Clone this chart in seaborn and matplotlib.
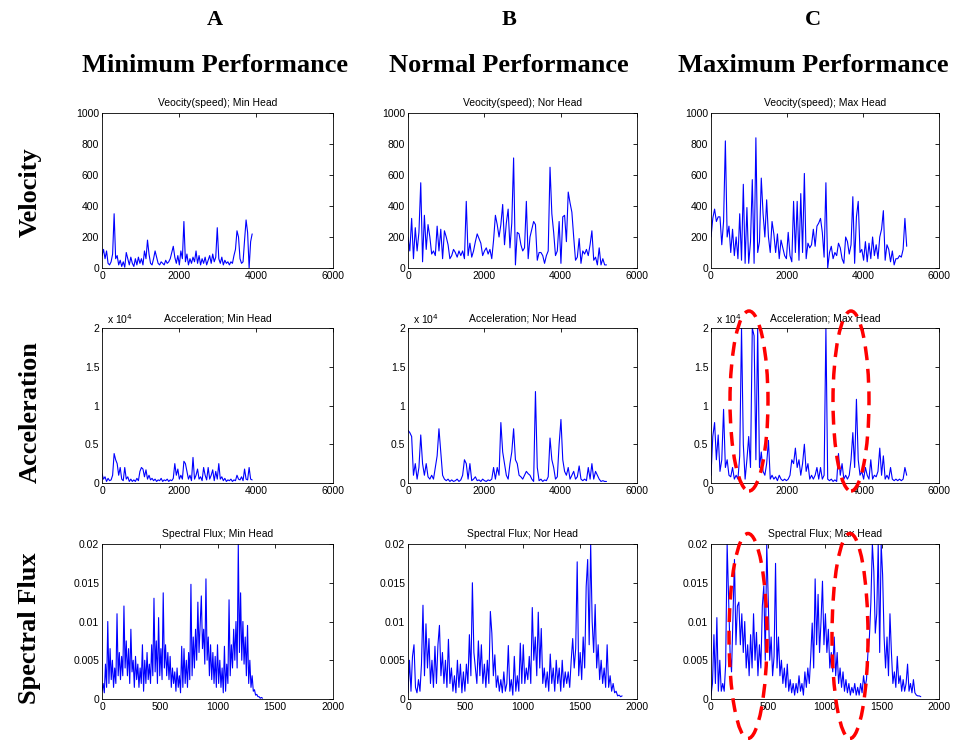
import numpy as np
import matplotlib
matplotlib.use("Agg")
import matplotlib.pyplot as plt
import seaborn as sns
from matplotlib.patches import Ellipse
from matplotlib.ticker import FuncFormatter

# data (velocity, acceleration in 1e4, spectral flux in 1e-3)
vel_min = [80, 120, 60, 110, 30, 20, 40, 90, 350, 60, 80, 20, 50, 10, 40, 5, 100, 60, 20, 70,
           30, 10, 60, 20, 70, 30, 60, 20, 110, 60, 180, 90, 30, 20, 60, 110, 70, 30, 20, 40,
           30, 20, 50, 30, 40, 60, 100, 140, 70, 30, 80, 20, 110, 60, 300, 40, 90, 20, 60, 30,
           70, 40, 110, 30, 80, 20, 60, 30, 70, 20, 50, 80, 30, 90, 40, 70, 260, 60, 30, 70,
           20, 50, 30, 40, 20, 40, 30, 80, 120, 240, 200, 60, 30, 40, 180, 310, 230, 0, 170, 220]
vel_nor = [200, 110, 320, 60, 260, 110, 230, 550, 40, 340, 120, 280, 200, 90, 110, 80, 270, 110, 250, 60,
           240, 200, 150, 60, 80, 120, 100, 70, 110, 80, 110, 60, 430, 80, 160, 70, 110, 170, 220, 190,
           160, 80, 110, 130, 90, 120, 60, 180, 340, 280, 200, 280, 410, 150, 290, 380, 130, 290, 710, 20,
           230, 220, 150, 110, 130, 430, 60, 200, 250, 300, 280, 50, 100, 100, 80, 30, 80, 110, 650, 350,
           230, 80, 110, 300, 30, 330, 340, 170, 490, 420, 360, 200, 50, 70, 190, 30, 110, 90, 120, 80,
           150, 240, 50, 70, 20, 130, 20, 60, 20, 20]
vel_max = [200, 320, 380, 300, 330, 330, 150, 300, 820, 200, 270, 100, 250, 80, 200, 60, 350, 50, 540, 30,
           390, 30, 170, 570, 30, 840, 100, 170, 580, 350, 200, 440, 200, 100, 300, 220, 100, 220, 60, 180,
           130, 80, 60, 230, 80, 40, 430, 100, 430, 50, 480, 100, 610, 60, 160, 130, 150, 250, 140, 270,
           290, 320, 230, 70, 550, 0, 100, 140, 60, 100, 80, 160, 130, 60, 30, 200, 170, 90, 150, 460,
           30, 330, 430, 100, 120, 50, 170, 40, 160, 60, 200, 80, 150, 60, 200, 250, 370, 50, 150, 120,
           40, 110, 20, 60, 60, 80, 70, 120, 320, 140]

acc_min = [0.12, 0.05, 0.08, 0.02, 0.06, 0.03, 0.04, 0.10, 0.38, 0.30, 0.25, 0.10, 0.20, 0.05, 0.03, 0.20, 0.05, 0.08, 0.02, 0.05,
           0.02, 0.04, 0.02, 0.06, 0.03, 0.15, 0.20, 0.18, 0.08, 0.17, 0.05, 0.10, 0.04, 0.06, 0.03, 0.05, 0.02, 0.04, 0.03, 0.06,
           0.02, 0.04, 0.03, 0.05, 0.02, 0.04, 0.03, 0.06, 0.25, 0.10, 0.18, 0.05, 0.10, 0.05, 0.28, 0.25, 0.15, 0.05, 0.10, 0.03,
           0.33, 0.05, 0.10, 0.18, 0.05, 0.08, 0.03, 0.20, 0.10, 0.04, 0.20, 0.05, 0.10, 0.17, 0.03, 0.15, 0.05, 0.25, 0.05, 0.08,
           0.03, 0.06, 0.02, 0.04, 0.03, 0.05, 0.02, 0.04, 0.03, 0.10, 0.05, 0.04, 0.08, 0.03, 0.18, 0.05, 0.04, 0.20, 0.05, 0.04]
acc_nor = [0.68, 0.65, 0.60, 0.10, 0.25, 0.05, 0.20, 0.62, 0.25, 0.10, 0.25, 0.08, 0.05, 0.10, 0.05, 0.20, 0.35, 0.70, 0.40, 0.10,
           0.05, 0.03, 0.05, 0.02, 0.04, 0.02, 0.03, 0.05, 0.02, 0.04, 0.10, 0.30, 0.25, 0.05, 0.25, 0.03, 0.05, 0.08, 0.03, 0.04,
           0.02, 0.05, 0.03, 0.02, 0.04, 0.03, 0.05, 0.20, 0.05, 0.20, 0.10, 0.78, 0.40, 0.25, 0.10, 0.05, 0.25, 0.40, 0.70, 0.30,
           0.25, 0.10, 0.08, 0.05, 0.10, 0.15, 0.12, 0.10, 0.05, 0.02, 1.18, 0.20, 0.03, 0.05, 0.02, 0.04, 0.03, 0.08, 0.58, 0.30,
           0.20, 0.05, 0.08, 0.50, 0.82, 0.30, 0.15, 0.10, 0.20, 0.05, 0.10, 0.15, 0.05, 0.08, 0.22, 0.05, 0.03, 0.05, 0.03, 0.20,
           0.05, 0.25, 0.05, 0.15, 0.10, 0.05, 0.02, 0.03, 0.02, 0.02]
acc_max = [0.10, 0.60, 0.78, 0.30, 0.62, 0.15, 0.30, 0.95, 0.20, 0.30, 0.10, 0.08, 0.20, 0.05, 0.10, 0.05, 0.35, 2.0, 0.50, 0.05,
           0.30, 0.60, 0.20, 2.0, 1.90, 0.30, 2.0, 0.20, 0.40, 0.15, 0.10, 0.25, 0.55, 0.05, 0.10, 0.05, 0.08, 0.03, 0.10, 0.05,
           0.03, 0.05, 0.03, 0.05, 0.10, 0.30, 0.25, 0.45, 0.20, 0.30, 0.10, 0.25, 0.50, 0.15, 0.25, 0.05, 0.10, 0.05, 0.10, 0.20,
           0.05, 0.20, 0.05, 0.10, 2.0, 0.05, 0.03, 0.05, 0.02, 0.04, 0.02, 0.38, 0.10, 0.25, 0.05, 0.10, 0.05, 0.10, 0.30, 0.65,
           0.20, 1.08, 0.30, 0.10, 0.15, 0.05, 0.20, 0.10, 0.05, 0.30, 0.05, 0.10, 0.08, 0.15, 0.45, 0.10, 0.35, 0.05, 0.10, 0.05,
           0.20, 0.05, 0.03, 0.05, 0.03, 0.05, 0.03, 0.05, 0.20, 0.10]

sf_min = [1.0, 2.0, 0.8, 4.5, 1.5, 10.0, 2.0, 6.5, 2.5, 5.0, 1.5, 4.0, 2.0, 11.0, 3.0, 6.0, 2.5, 5.5, 3.0, 12.0,
          4.0, 7.5, 3.0, 6.5, 2.0, 9.0, 3.5, 5.0, 1.5, 5.5, 2.5, 4.5, 1.5, 4.0, 2.0, 7.0, 1.0, 5.0, 2.0, 6.0,
          2.5, 4.5, 2.0, 7.0, 3.0, 13.0, 3.5, 7.5, 2.0, 10.5, 3.0, 6.5, 2.5, 13.7, 4.0, 7.0, 3.0, 6.0, 2.5, 5.5,
          1.5, 4.0, 2.0, 3.5, 1.0, 4.0, 1.5, 3.0, 0.8, 6.8, 1.5, 6.5, 2.0, 5.0, 1.5, 6.0, 2.5, 14.8, 3.0, 8.0,
          4.0, 9.0, 5.0, 12.5, 6.0, 9.5, 13.3, 6.5, 9.0, 4.5, 15.5, 5.0, 8.0, 3.0, 7.0, 2.5, 6.0, 2.0, 5.5, 1.5,
          7.0, 2.0, 5.0, 1.5, 4.0, 0.8, 6.8, 1.0, 4.5, 2.0, 12.8, 3.0, 7.0, 4.0, 9.0, 5.0, 10.0, 4.0, 20.0, 6.0,
          13.7, 5.0, 10.0, 4.5, 8.0, 3.0, 9.5, 2.0, 5.0, 1.5, 3.0, 1.0, 1.2, 0.5, 0.6, 0.3, 0.3, 0.1, 0.2, 0.1]
sf_nor = [0.8, 5.0, 1.0, 5.5, 7.0, 1.5, 0.8, 2.5, 1.0, 4.5, 12.1, 3.0, 9.7, 4.0, 7.8, 2.0, 5.0, 1.5, 6.8, 2.0,
          7.0, 9.5, 3.0, 6.0, 2.0, 5.0, 1.5, 7.7, 2.0, 4.0, 1.0, 3.0, 0.8, 5.0, 1.5, 4.5, 0.8, 3.5, 1.0, 4.5,
          2.0, 8.3, 3.0, 15.0, 6.0, 4.0, 2.0, 7.5, 3.0, 7.0, 2.0, 4.5, 1.5, 5.0, 2.0, 11.3, 8.5, 3.0, 5.7, 1.5,
          3.0, 1.0, 2.5, 0.8, 3.5, 1.0, 2.0, 6.9, 1.0, 2.5, 0.5, 5.5, 1.0, 3.0, 1.0, 7.2, 2.0, 7.0, 2.0, 4.0,
          2.5, 5.5, 2.0, 11.8, 5.0, 8.0, 3.0, 11.2, 4.0, 9.1, 2.0, 4.0, 1.5, 3.5, 1.0, 5.8, 2.0, 4.0, 1.0, 5.0,
          2.0, 4.0, 1.0, 5.0, 1.5, 3.5, 2.0, 3.5, 1.5, 5.0, 7.8, 4.0, 6.5, 17.7, 3.0, 6.0, 2.5, 8.0, 4.0, 14.5,
          18.0, 7.0, 20.0, 10.0, 6.0, 12.2, 4.0, 7.0, 2.5, 5.0, 2.0, 4.0, 1.5, 7.0, 1.5, 3.0, 1.0, 2.0, 0.8, 1.0,
          0.4, 0.5, 0.3, 0.4]
sf_max = [0.5, 2.0, 8.3, 2.0, 10.5, 1.0, 5.0, 1.0, 2.0, 1.0, 4.5, 20.0, 13.0, 6.0, 3.5, 10.5, 18.0, 7.0, 12.0, 12.5,
          7.0, 11.0, 6.0, 10.0, 4.0, 7.0, 3.0, 8.3, 4.0, 11.0, 5.0, 8.6, 3.0, 7.0, 4.0, 12.0, 14.6, 5.0, 20.0, 13.0,
          5.0, 8.0, 3.0, 5.5, 17.5, 4.0, 8.0, 3.0, 5.0, 2.0, 4.0, 1.5, 4.5, 1.0, 2.5, 0.8, 2.0, 0.5, 2.0, 0.8,
          3.0, 1.0, 2.0, 0.5, 3.5, 1.5, 4.0, 2.0, 5.5, 9.8, 4.0, 15.5, 7.0, 13.5, 6.0, 10.0, 15.2, 7.0, 11.0, 6.0,
          9.0, 4.0, 6.0, 3.5, 8.0, 3.0, 6.0, 2.0, 4.0, 1.5, 3.5, 1.0, 2.5, 0.8, 2.0, 0.5, 1.5, 0.8, 2.0, 0.5,
          1.5, 0.5, 2.0, 0.8, 3.0, 1.5, 2.5, 6.0, 8.0, 12.5, 20.0, 16.5, 8.5, 11.0, 20.0, 6.0, 20.0, 16.0, 8.0, 4.0,
          8.0, 3.0, 11.0, 6.0, 2.0, 3.5, 1.5, 5.5, 2.0, 3.0, 1.0, 2.5, 1.0, 2.0, 4.5, 1.0, 2.0, 0.8, 2.5, 0.8,
          0.5, 0.4, 0.4, 0.3]

# last sample index of each recording
vel_len = [3900, 5200, 5150]
sf_len = [1390, 1870, 1840]

col_letters = ["A", "B", "C"]
col_names = ["Minimum Performance", "Normal Performance", "Maximum Performance"]
row_names = ["Velocity", "Acceleration", "Spectral Flux"]
heads = ["Min", "Nor", "Max"]

sns.set_theme(style="white")
plt.rcParams["font.family"] = ["Liberation Sans", "DejaVu Sans"]
plt.rcParams["text.color"] = "black"
plt.rcParams["axes.titlecolor"] = "black"

W, H = 957, 740
fig = plt.figure(figsize=(9.57, 7.4), dpi=100)

col_left = [102, 408, 711]
col_w = [231, 229, 228]
row_top = [113, 328, 544]
row_h = 155

series = [[vel_min, vel_nor, vel_max], [acc_min, acc_nor, acc_max], [sf_min, sf_nor, sf_max]]
titles = ["Veocity(speed); {} Head", "Acceleration; {} Head", "Spectral Flux; {} Head"]

for r in range(3):
    for c in range(3):
        ax = fig.add_axes([col_left[c] / W, 1 - (row_top[r] + row_h) / H, col_w[c] / W, row_h / H])
        vals = np.array(series[r][c], dtype=float)
        if r < 2:
            x = np.linspace(0, vel_len[c], len(vals))
        else:
            x = np.linspace(0, sf_len[c], len(vals))
            vals = vals / 1000.0
        sns.lineplot(x=x, y=vals, ax=ax, color="#0000ff", linewidth=0.8, estimator=None)
        if r == 0:
            ax.set_ylim(0, 1000)
            ax.set_xlim(0, 6000)
            ax.set_xticks([0, 2000, 4000, 6000])
            ax.set_yticks([0, 200, 400, 600, 800, 1000])
        elif r == 1:
            ax.set_ylim(0, 2)
            ax.set_xlim(0, 6000)
            ax.set_xticks([0, 2000, 4000, 6000])
            ax.set_yticks([0, 0.5, 1, 1.5, 2])
            ax.text(0.02, 1.01, "x 10$^4$", transform=ax.transAxes, fontsize=7.5,
                    ha="left", va="bottom", color="black")
        else:
            ax.set_ylim(0, 0.02)
            ax.set_xlim(0, 2000)
            ax.set_xticks([0, 500, 1000, 1500, 2000])
            ax.set_yticks([0, 0.005, 0.01, 0.015, 0.02])
        ax.yaxis.set_major_formatter(FuncFormatter(lambda v, p: "%g" % v))
        ax.xaxis.set_major_formatter(FuncFormatter(lambda v, p: "%g" % v))
        ax.tick_params(direction="in", top=True, right=True, length=3, width=0.6,
                       labelsize=7.5, colors="black", pad=2)
        for s in ax.spines.values():
            s.set_color("black")
            s.set_linewidth(0.6)
        ax.set_xlabel("")
        ax.set_ylabel("")
        ax.set_title(titles[r].format(heads[c]), fontsize=7.5, pad=5, color="black")

serif = ["Liberation Serif", "DejaVu Serif"]
col_cx = [215, 509, 813]
for c in range(3):
    fig.text(col_cx[c] / W, 1 - 20 / H, col_letters[c], family=serif, fontweight="bold",
             fontsize=16, ha="center", va="center", color="black")
    fig.text(col_cx[c] / W, 1 - 66 / H, col_names[c], family=serif, fontweight="bold",
             fontsize=19, ha="center", va="center", color="black")

row_cy = [192, 412, 628]
for r in range(3):
    fig.text(30 / W, 1 - row_cy[r] / H, row_names[r], family=serif, fontweight="bold",
             fontsize=19, rotation=90, ha="center", va="center", color="black")

# red dashed ellipses marking the highlighted regions
ell = [(749, 401, 38, 180), (851, 401, 36, 180), (748, 636, 38, 205), (850, 636, 36, 205)]
for cx, cy, w, h in ell:
    e = Ellipse((cx / W, 1 - cy / H), w / W, h / H, transform=fig.transFigure, fill=False,
                edgecolor="red", linewidth=2.5, linestyle=(0, (4, 2.5)), clip_on=False)
    fig.add_artist(e)

fig.savefig("out.png", dpi=100)
